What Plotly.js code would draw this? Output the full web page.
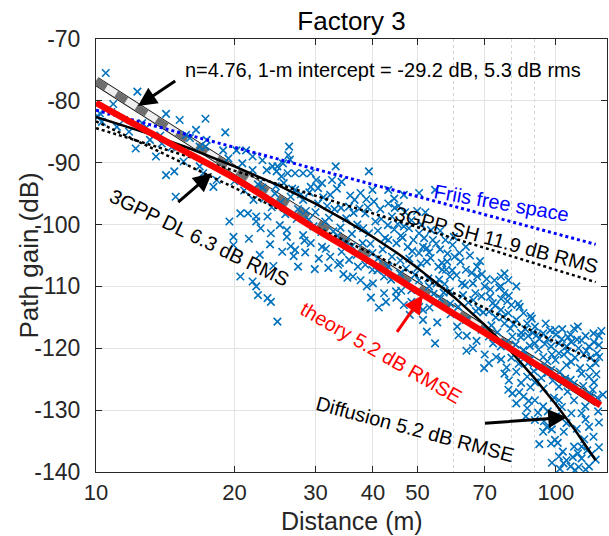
<!DOCTYPE html>
<html>
<head>
<meta charset="utf-8">
<script src="https://cdn.plot.ly/plotly-3.0.1.min.js"></script>
<style>html,body{margin:0;padding:0;background:#fff;}#chart{width:609px;height:536px;}</style>
</head>
<body>
<div id="chart"></div>
<script>
// ---- data ----
const measDist = [
 10.1,10.3,10.5,10.9,10.8,11.1,11.5,12.3,12.6,12.2,13.1,13.5,13.9,14.2,14.2,14.8,15.2,15.7,16,16.5,15.7,16.8,17.3,17.4,17.3,16.8,17.1,18.3,18,18.9,19.1,19.4,20.2,20.8,21.2,21.9,21.9,23,23.5,24.2,24.7,24.8,25.3,25.5,26.1,26.3,26.2,26.4,27.1,28.2,29.3,30.1,32.6,33.2,39.2,14.9,10.2,11.8,12.8,13.8,14.6,15.5,
 19.5,19.9,19.9,20.6,21.4,22.3,22.3,23.6,25.1,26,24,26,28.2,29.3,31,27.1,32.3,34.2,33.6,35.5,38.5,39.9,36.2,37.6,42.3,42.3,42.7,44.9,46.7,48.5,50.4,51.4,52.4,54.6,51.4,38.8,
 20.6,21.9,22.3,22.5,23.6,24,24.8,
 25.6,27.1,29.3,31,34.2,32.3,28.2,30.4,35.5,37.6,38.5,39.9,43.2,44,46.7,48.5,50.4,53.5,47.6,50.4,52.4,55.5,57.7,58.8,51.4,52.4,46.7,50.4,54.6,43.2,39.2,43.2,39.9,44,43.2,45.8,47.6,48.5,50.4,
 60.2,63.7,59.6,56.6,63.7,67.4,67.4,70,75.9,77.3,75.9,77.3,68.9,72.9,71.5,75.9,78.8,82,85,83.4,86.6,90,93.8,99.5,107.6,109.5,111.6,113.7,105.4,97.6,90,80.4,77.3,66.1,61.3,63.7,58.8,62.5,78.8,101.5,118,122.8,101.5,93.8,85,75.9,71.5,68.9,
 71.5,77.3,82,80.4,78.8,82,85,90,86.6,90,93.8,95.6,93.8,99.5,97.6,103.5,101.5,105.4,107.6,111.6,113.7,118,113.7,109.5,118,120.7,113.7,115.8,109.5,107.6,113.7,118,101.5,97.6,105.4,91.9,86.6,101.5,105.4,122,120.7,
 30,31.5,33,34,35,36,37,38,40.5,41,41.5,42,44.5,45,46,47,48,49,50,51,53,54,55,56,57,58,36.5,33.5,29,27.5,26.5,24.5,23,22,21,20,31.8,39,44.5,45.5,52,56,60,62,65,66,69,72,73.5,74,76,79,80,82,84,88,87,89,92,95,96,98,100,103,104,106,108,110,112,115,116,119,121,124,124,
 34.5,40,41,36,32,30.5,28.5,27.5,26.5,45,53,56,59,61,64,66,70,73,67,80,83,88,90,94,96,99,103,106,108,111,116,119,121,123,124,122,110,116,104,100,96,88,84,79,76,86,92,98,102,117,124,
 22.5,23.2,24.1,24.6,25.2,25.8,26.7,27.3,27.9,28.6,29.1,29.7,30.4,30.9,22.8,23.9,25.4,26.9,28.4,29.9,21.5,22.7,24.3,
 31.2,32.1,32.8,33.4,34.1,34.8,35.7,36.3,36.9,37.4,38.1,38.7,39.5,40.2,40.9,41.7,42.5,43.1,43.8,44.6,31.6,33.9,35.2,37.1,39.6,41.2,
 45.3,45.9,46.4,47.2,47.9,48.7,49.4,49.9,50.8,51.7,52.8,53.4,54.2,54.9,55.7,56.5,57.3,58.1,58.9,59.5,46.1,48.1,53.1,55.2,57.5,
 60.8,61.7,62.8,63.4,64.5,65.6,66.8,67.9,68.4,69.5,70.7,71.9,72.4,73.8,74.6,75.3,76.7,77.9,78.4,79.6,61.4,63.9,67.2,69.8,74.1,78.1,
 80.9,81.7,82.8,83.9,84.6,85.8,86.9,87.7,88.6,89.5,90.8,91.7,92.9,94.6,95.8,97.1,98.4,99.8,101.9,103.2,104.7,106.3,107.9,109.4,111.2,112.8,114.6,116.4,118.6,120.2,122.4,124.1,125.5,126.5,83.2,87.3,91.4,94.2,97.9,100.9,103.9,108.8,112.1,115.2,119.5,123.5
];
const measGain = [
 -82.6,-83.4,-75.5,-80.5,-81.8,-84.2,-83.1,-78.5,-83.6,-87.7,-86.3,-89,-86.9,-82.1,-92,-91.4,-83.1,-88.2,-86,-84.7,-85.5,-87.4,-87.4,-86.3,-82.9,-90.6,-91.7,-92.8,-93.9,-88,-85.1,-89.3,-88,-90.1,-88,-89,-91.2,-89.6,-91.2,-90.6,-91.4,-90.6,-92.2,-90.1,-91.7,-87.4,-88.8,-89.5,-91.7,-91.7,-91.7,-92.8,-92.8,-90.6,-91.4,-95.5,-82.0,-85.0,-84.5,-85.6,-87.5,-89.8,
 -99.5,-102,-103.3,-98.2,-98.2,-98.7,-99.5,-98.7,-100.1,-100.9,-101.4,-102,-101.7,-103,-103.6,-104.1,-105.2,-104.4,-106.5,-105.7,-106.5,-107.3,-108.4,-109,-108.4,-111.1,-112.5,-110.8,-113,-112.5,-113.3,-115.4,-117.3,-119.2,-113.8,-110,
 -108.4,-109.2,-110,-111.4,-111.9,-112.5,-115.7,
 -93.3,-94.4,-93.9,-93.3,-93.1,-95.2,-96,-96.6,-97.1,-94.9,-98.2,-94.4,-96.6,-98.7,-100.3,-99.3,-101.4,-100.9,-103.6,-104.6,-106,-106.8,-107.3,-108.4,-103.6,-103.8,-95.2,-94.9,-94.4,-94.4,-101.4,-102.5,-104.6,-105.2,-106.8,-107.9,-109.5,-110.6,-109,
 -105.2,-103.6,-103.3,-107.3,-107.3,-106.8,-108.4,-110,-108.4,-107.9,-110,-111.1,-111.6,-112.7,-114.1,-113.8,-114.3,-115.4,-114.3,-113.3,-116,-116.5,-117.6,-117,-117.8,-116.8,-116.5,-118.7,-119.7,-119.7,-119.2,-118.1,-116,-112.2,-113.3,-115.4,-110.8,-109.5,-109,-119.2,-119.7,-120.8,-120.8,-121.4,-120.3,-119.7,-118.1,-117,
 -122.4,-124.1,-123.8,-127.3,-126.7,-128.9,-127.8,-128.4,-129.7,-131.6,-129.4,-132.7,-133.5,-134.8,-135.4,-136.7,-137.5,-138.1,-139.1,-137,-137.8,-139.1,-135.9,-135.9,-132.7,-134.3,-130.5,-129.4,-128.4,-125.1,-124.1,-124.6,-126.2,-123.5,-122.7,-123,-124.6,-128.4,-132.1,-122.4,-117.6,
 -98,-99.5,-97.5,-100.5,-99,-101.5,-100,-103,-99.5,-101,-97.5,-104,-100.8,-103,-101.8,-98,-105.5,-102.5,-107,-100,-104.5,-102.5,-109.5,-104,-111,-106,-96,-101.8,-99.2,-97.5,-95.5,-95,-94,-96,-94.5,-93,-97,-97.2,-95.8,-97,-98,-101,-102,-106,-105,-109.5,-108,-110.5,-109,-115,-112,-111.5,-113,-110,-117.5,-114.8,-118,-117.5,-118.5,-116,-118.5,-121,-117.8,-118.5,-121,-120.5,-119,-121.5,-120,-121,-118,-121.5,-119,-119.5,-118,
 -108,-109.5,-105.5,-103.5,-107,-105.5,-104.5,-106.8,-103.5,-111.8,-110,-112,-114.5,-116.5,-118,-120,-121,-119.2,-114,-121.5,-122.5,-121.8,-125.5,-126.5,-124,-128,-129.5,-127,-130.5,-133,-131.5,-127.5,-125.5,-128,-136,-138,-139.7,-139.6,-133.5,-131,-130.2,-126.3,-125.6,-125.2,-121.8,-131,-135.5,-138.5,-139.5,-136.5,-132,
 -93.5,-95.8,-97.2,-93.8,-96.4,-98.3,-94.2,-99.1,-95.1,-97.8,-94.8,-100.3,-94.1,-101.2,-100.6,-103.2,-104.4,-105.1,-102.6,-107.2,-102.3,-104.9,-106.7,
 -95.6,-98.9,-101.1,-94.2,-97.3,-102.8,-95.3,-98.1,-104.9,-97.4,-100.6,-95.9,-103.1,-96.3,-107.4,-99.1,-102.2,-100.1,-108.9,-97.3,-103.9,-106.2,-108.6,-106.8,-111.8,-113.4,
 -99.9,-105.8,-102.1,-107.1,-100.6,-104.3,-108.1,-97.8,-106.3,-102.2,-108.7,-105.4,-111.2,-103.1,-108.9,-106.2,-109.6,-104.7,-112.8,-107.4,-110.7,-114.6,-113.4,-115.8,-102.5,
 -108.2,-104.6,-111.4,-109.8,-112.6,-107.8,-111.1,-113.6,-105.9,-114.2,-108.8,-111.7,-116.3,-113.1,-117.4,-110.2,-114.9,-119.1,-112.4,-116.8,-117.9,-120.4,-118.8,-123.2,-121.4,-123.1,
 -116.1,-119.4,-112.8,-118.2,-121.1,-116.9,-122.4,-119.6,-115.2,-123.7,-117.9,-120.2,-124.8,-119.3,-122.1,-117.1,-125.2,-121.9,-123.8,-116.9,-124.9,-118.2,-122.2,-125.7,-118.6,-123.2,-126.1,-120.4,-123.1,-126.7,-124.2,-121.4,-117.2,-127.5,-127.1,-128.5,-130.4,-131.8,-133.1,-135.3,-138.6,-137.6,-139.2,-134.7,-137.1,-130.2
];

const fitDist = [10, 123];
const fitGain = [-76.8, -128.7];

const theoryDist = [10, 12, 15, 20, 30, 40, 50, 70, 100, 125];
const theoryGain = [-80.3, -83.6, -87.5, -92.5, -100.7, -106.3, -110.8, -117.5, -124.6, -129.2];

const diffDist = [10, 13, 16, 20, 25, 30, 35, 40, 45, 50, 60, 70, 80, 90, 100, 110, 122];
const diffGain = [-82.6, -85.3, -87.7, -90.6, -93.7, -96.6, -99.4, -102.0, -104.5, -107.0, -111.7, -116.2, -120.6, -124.9, -129.1, -133.2, -138.1];

const friisDist = [10, 122];
const friisGain = [-81.5, -103.2];

const shDist = [10, 122];
const shGain = [-84.4, -109.3];

const dlDist = [10, 122];
const dlGain = [-83.3, -122.1];

const xTickVals = [10, 20, 30, 40, 50, 70, 100];
const xTickText = ['10', '20', '30', '40', '50', '70', '100'];
const xMinorVals = [60, 80, 90];
const yTickVals = [-140, -130, -120, -110, -100, -90, -80, -70];
const yTickText = ['-140', '-130', '-120', '-110', '-100', '-90', '-80', '-70'];

// ---- styling ----
const FONT = '"Liberation Sans", Arial, Helvetica, sans-serif';
const AX = '#262626';
const GRID = '#e3e3e3';

const traces = [
  {x: fitDist, y: fitGain, mode: 'lines', line: {color: '#1a1a1a', width: 9}, hoverinfo: 'skip'},
  {x: fitDist, y: fitGain, mode: 'lines', line: {color: '#efefef', width: 7}, hoverinfo: 'skip'},
  {x: fitDist, y: fitGain, mode: 'lines', line: {color: '#6e6e6e', width: 7, dash: '12px,12px'}, hoverinfo: 'skip'},
  {x: measDist, y: measGain, mode: 'markers', marker: {symbol: 'x-thin', size: 7.5, color: '#0072BD', line: {color: '#0072BD', width: 1.6}}},
  {x: friisDist, y: friisGain, mode: 'lines', line: {color: '#0000ff', width: 3, dash: 'dot'}},
  {x: shDist, y: shGain, mode: 'lines', line: {color: '#000000', width: 2.5, dash: 'dot'}},
  {x: dlDist, y: dlGain, mode: 'lines', line: {color: '#000000', width: 2.5, dash: 'dot'}},
  {x: diffDist, y: diffGain, mode: 'lines', line: {color: '#000000', width: 2.5}},
  {x: theoryDist, y: theoryGain, mode: 'lines', line: {color: '#ff0000', width: 6.5, shape: 'spline', smoothing: 0.6}}
];

function txt(text, xp, yp, angle, color, size) {
  return {text: text, xref: 'paper', yref: 'paper', x: xp, y: yp, showarrow: false,
          textangle: angle, xanchor: 'center', yanchor: 'middle',
          font: {family: FONT, size: size || 20, color: color}};
}
function arrow(xp, yp, ax, ay, color) {
  return {text: '', xref: 'paper', yref: 'paper', x: xp, y: yp, ax: ax, ay: ay,
          showarrow: true, arrowhead: 2, arrowsize: 1.25, arrowwidth: 3, arrowcolor: color, standoff: 0};
}

const layout = {
  width: 609, height: 536,
  margin: {l: 96, r: 2, t: 39, b: 64},
  paper_bgcolor: '#ffffff', plot_bgcolor: '#ffffff',
  showlegend: false,
  font: {family: FONT, color: AX},
  title: {text: 'Factory 3', font: {family: FONT, size: 26, color: '#000000'},
          x: 0.5, xref: 'paper', xanchor: 'center', y: 1 - 21 / 536, yref: 'container', yanchor: 'middle'},
  xaxis: {
    type: 'log', range: [1, 2.111], autorange: false,
    tickmode: 'array', tickvals: xTickVals, ticktext: xTickText,
    tickfont: {family: FONT, size: 22, color: AX},
    ticks: 'inside', ticklen: 6, tickwidth: 1, tickcolor: AX,
    showline: true, linecolor: AX, linewidth: 1, mirror: 'ticks',
    showgrid: true, gridcolor: GRID, gridwidth: 1,
    minor: {tickmode: 'array', tickvals: xMinorVals, showgrid: true, gridcolor: '#d4d4d4', griddash: 'dot', gridwidth: 1, ticks: ''},
    zeroline: false, ticklabelstandoff: 1,
    automargin: false
  },
  yaxis: {
    range: [-140, -70], autorange: false,
    tickmode: 'array', tickvals: yTickVals, ticktext: yTickText,
    tickfont: {family: FONT, size: 23, color: AX},
    ticks: 'inside', ticklen: 6, tickwidth: 1, tickcolor: AX,
    showline: true, linecolor: AX, linewidth: 1, mirror: 'ticks',
    showgrid: true, gridcolor: GRID, gridwidth: 1,
    zeroline: false, ticklabelstandoff: 10,
    automargin: false
  },
  annotations: [
    {text: 'Path gain (dB)', xref: 'paper', yref: 'paper', x: -68 / 511, y: 0.5, showarrow: false,
     textangle: -90, xanchor: 'center', yanchor: 'middle', font: {family: FONT, size: 26, color: AX}},
    {text: 'Distance (m)', xref: 'paper', yref: 'paper', x: 0.5, y: -63.5 / 433, showarrow: false,
     xanchor: 'center', yanchor: 'bottom', borderpad: 0, font: {family: FONT, size: 25, color: AX}},
    txt('n=4.76, 1-m intercept = -29.2 dB, 5.3 dB rms', 0.5616, 0.9284, 0, '#000000'),
    arrow(0.082, 0.8453, 38.8, -26, '#000000'),
    txt('Friis free space', 0.7945, 0.6201, 10, '#0000ff'),
    txt('3GPP SH 11.9 dB RMS', 0.7847, 0.5358, 15, '#000000'),
    txt('3GPP DL 6.3 dB RMS', 0.2035, 0.5404, 26, '#000000'),
    arrow(0.227, 0.6905, -35.3, 30.3, '#000000'),
    txt('theory 5.2 dB RMSE', 0.5587, 0.2748, 30, '#ff0000'),
    arrow(0.6399, 0.4088, -27, 38.3, '#ff0000'),
    txt('Diffusion 5.2 dB RMSE', 0.6233, 0.0993, 15, '#000000'),
    arrow(0.9217, 0.1263, -83.5, 6, '#000000')
  ]
};

Plotly.newPlot('chart', traces, layout, {displayModeBar: false, staticPlot: true});
</script>
</body>
</html>
